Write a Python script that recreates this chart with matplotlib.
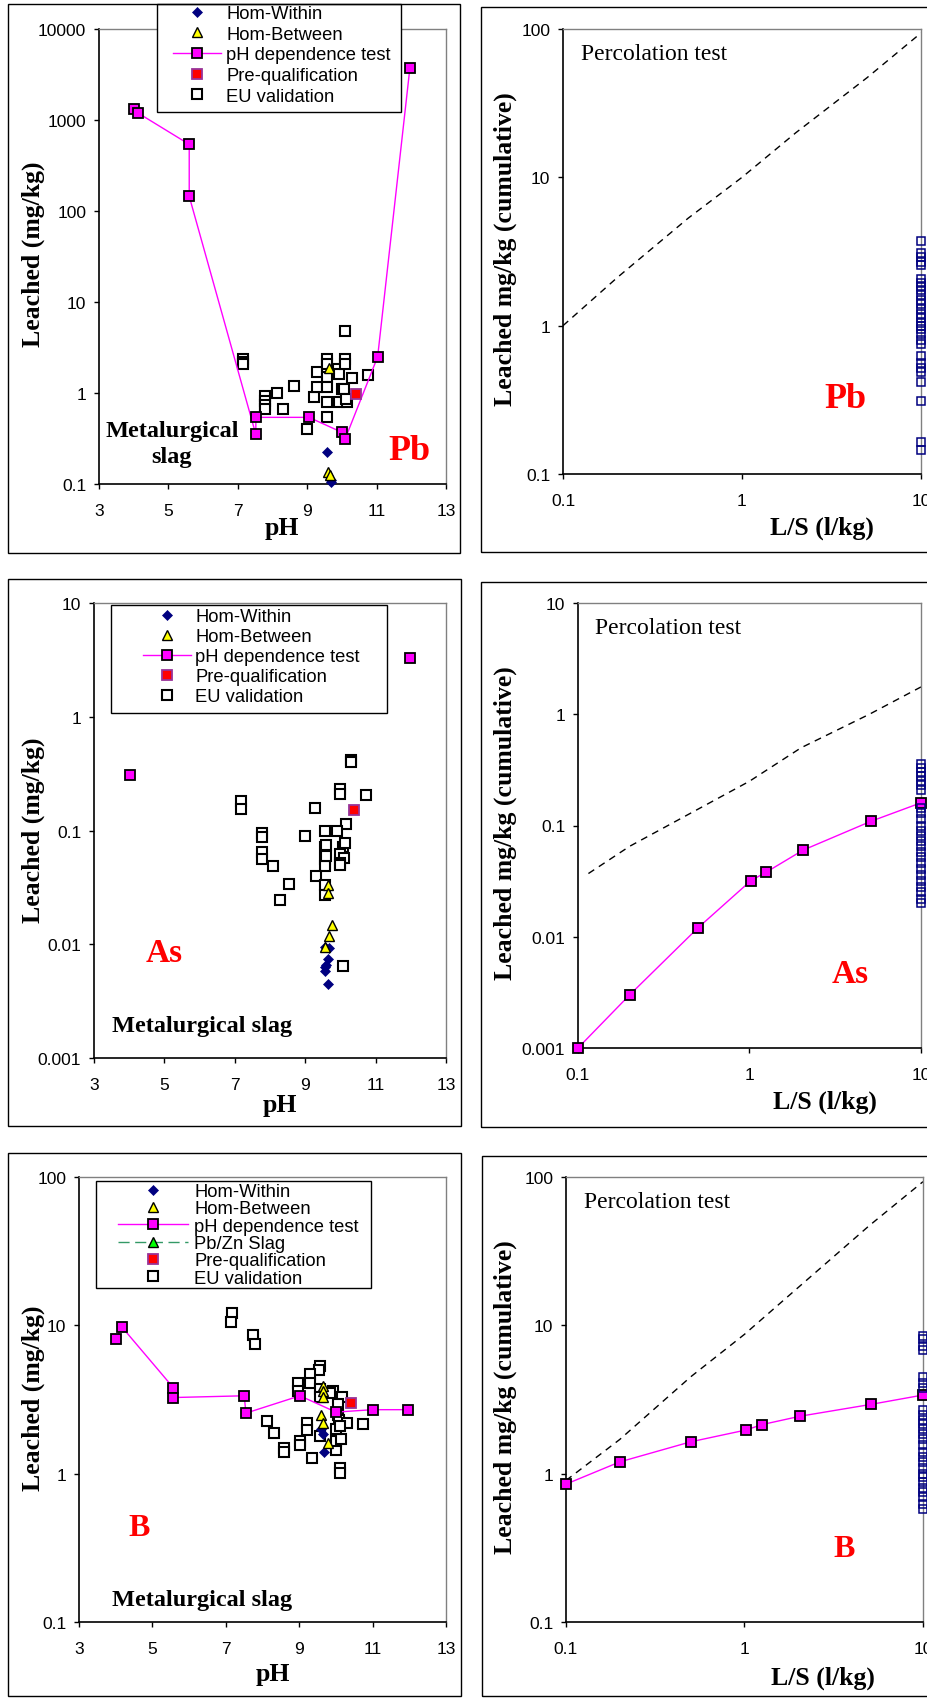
import matplotlib
matplotlib.use("Agg")
import matplotlib.pyplot as plt
from matplotlib.lines import Line2D
from matplotlib.patches import Rectangle
from matplotlib.ticker import FixedLocator, NullLocator, FuncFormatter

W, H = 928, 1699

# ---------------- data ----------------
# Pb, pH dependence panel
pb_dep_ph = [4.0, 4.13, 5.6, 5.6, 7.52, 7.52, 9.05, 10.0, 10.09, 11.03, 11.96]
pb_dep_val = [1320, 1190, 540, 145, 0.35, 0.54, 0.54, 0.37, 0.31, 2.5, 3750]
pb_within_ph = [9.58, 9.68, 9.7]
pb_within_val = [0.225, 0.112, 0.105]
pb_between_ph = [9.6, 9.66, 9.62]
pb_between_val = [0.135, 0.125, 1.9]
pb_preq_ph = [10.4]
pb_preq_val = [0.98]
pb_eu_ph = [7.16, 7.16, 7.16, 7.78, 7.78, 7.78, 7.78, 8.12, 8.31, 8.62, 8.98,
            9.2, 9.27, 9.28, 9.56, 9.56, 9.58, 9.58, 9.56, 9.56,
            9.9, 9.92, 9.99, 9.93, 10.09, 10.1, 10.1, 10.05, 10.15, 10.12,
            10.3, 10.74]
pb_eu_val = [2.35, 2.2, 2.1, 0.92, 0.82, 0.74, 0.67, 1.0, 0.67, 1.2, 0.40,
             0.90, 1.15, 1.69, 2.37, 2.1, 1.5, 1.15, 0.80, 0.54,
             1.84, 1.6, 1.1, 0.8, 4.8, 2.37, 2.1, 1.1, 0.8, 0.85,
             1.45, 1.58]

# As, pH dependence panel
as_dep_ph = [4.02, 11.98]
as_dep_val = [0.31, 3.3]
as_within_ph = [9.56, 9.68, 9.66, 9.6, 9.56, 9.56, 9.66]
as_within_val = [0.0095, 0.0092, 0.0074, 0.0066, 0.0063, 0.0058, 0.0045]
as_between_ph = [9.66, 9.66, 9.77, 9.68, 9.56]
as_between_val = [0.033, 0.028, 0.0147, 0.0119, 0.0094]
as_preq_ph = [10.39]
as_preq_val = [0.152]
as_eu_ph = [10.29, 10.29, 10.0, 10.0, 10.72, 7.18, 7.18, 9.28, 10.15,
            7.76, 7.76, 7.76, 7.76, 8.08, 8.99, 9.57, 9.9,
            9.57, 9.6, 9.57, 9.57, 9.6, 10.07, 10.12, 10.0, 10.1, 10.0, 10.0,
            9.32, 8.55, 8.27, 9.57, 9.57, 10.08]
as_eu_val = [0.42, 0.40, 0.23, 0.21, 0.205, 0.18, 0.155, 0.158, 0.114,
             0.096, 0.087, 0.065, 0.056, 0.049, 0.089, 0.098, 0.098,
             0.072, 0.075, 0.056, 0.049, 0.06, 0.072, 0.078, 0.062, 0.057, 0.052, 0.05,
             0.040, 0.034, 0.0245, 0.033, 0.027, 0.0064]

# B, pH dependence panel
b_dep_ph = [4.01, 4.16, 5.57, 5.57, 7.5, 7.55, 9.02, 10.0, 11.0, 11.97]
b_dep_val = [8.1, 9.8, 3.8, 3.26, 3.35, 2.56, 3.35, 2.6, 2.7, 2.7]
b_within_ph = [9.64, 9.6, 9.68]
b_within_val = [1.85, 2.0, 1.39]
b_between_ph = [9.66, 9.66, 9.66, 9.59, 9.66, 9.79]
b_between_val = [3.9, 3.6, 3.3, 2.48, 2.2, 1.6]
b_pbzn_ph = []
b_pbzn_val = []
b_preq_ph = [10.41]
b_preq_val = [3.0]
b_eu_ph = [7.18, 7.13, 7.73, 7.8, 9.57, 9.55, 9.29, 9.3, 8.98, 8.98,
           9.57, 9.57, 9.93, 10.16, 9.85, 10.05, 10.05, 10.08, 10.29, 10.73,
           8.11, 8.3, 8.59, 8.59, 9.02, 9.02, 9.22, 9.22, 9.36, 9.57,
           10.0, 10.0, 10.15, 10.1, 10.1, 10.0, 10.1]
b_eu_val = [12.1, 10.5, 8.6, 7.5, 5.3, 5.0, 4.7, 4.1, 4.1, 3.6,
            3.7, 3.3, 3.6, 3.3, 3.5, 2.95, 2.5, 2.3, 2.2, 2.16,
            2.25, 1.88, 1.5, 1.39, 1.67, 1.56, 2.2, 1.97, 1.27, 1.8,
            1.45, 1.65, 1.7, 1.09, 1.01, 2.0, 2.1]

# percolation panels
perc_ls = [0.1, 0.2, 0.5, 1.02, 1.25, 2.05, 5.1, 10]
as_perc_val = [0.001, 0.003, 0.012, 0.032, 0.038, 0.060, 0.109, 0.16]
b_perc_val = [0.85, 1.2, 1.64, 1.97, 2.14, 2.44, 2.93, 3.39]

ref_ls = [0.1, 0.2, 0.5, 1, 2, 5, 10]
as_ref_ls = [0.115, 0.2, 0.5, 1, 2, 5, 10]
pb_ref_val = [1.0, 2.1, 5.3, 10, 20, 47, 94]
as_ref_val = [0.037, 0.065, 0.14, 0.25, 0.5, 1.0, 1.76]
b_ref_val = [0.9, 1.7, 4.5, 8.7, 18, 47, 93]

pb_eu10 = [3.7, 3.1, 2.9, 2.7, 2.55, 2.05, 1.95, 1.85, 1.75, 1.62, 1.5, 1.4, 1.3,
           1.2, 1.12, 1.05, 1.0, 0.95, 0.88, 0.8, 0.75, 0.62, 0.56, 0.52, 0.49,
           0.42, 0.31, 0.165, 0.145]
as_eu10 = [0.36, 0.33, 0.30, 0.28, 0.25, 0.23, 0.21, 0.145, 0.13, 0.115, 0.1,
           0.09, 0.08, 0.072, 0.065, 0.058, 0.052, 0.046, 0.041, 0.036, 0.032,
           0.028, 0.025, 0.022, 0.02]
b_eu10 = [8.5, 8.1, 7.3, 6.8, 4.5, 4.1, 3.8, 2.7, 2.5, 2.3, 2.15, 2.0, 1.85,
          1.7, 1.55, 1.4, 1.3, 1.2, 1.1, 1.0, 0.95, 0.88, 0.8, 0.75, 0.7, 0.62, 0.58]

# ---------------- styles ----------------
MAG = '#FF00FF'
NAVY = '#000080'
SANS = 'Liberation Sans'
SERIF = 'Liberation Serif'

within_kw = dict(ls='none', marker='D', ms=5, mfc=NAVY, mec=NAVY, mew=0.5)
between_kw = dict(ls='none', marker='^', ms=7, mfc='#FFFF00', mec='black', mew=1)
dep_kw = dict(color=MAG, lw=1, marker='s', ms=6.5, mfc=MAG, mec='black', mew=1.3)
preq_kw = dict(ls='none', marker='s', ms=6.5, mfc='#FF0000', mec='#993399', mew=1.3)
eu_kw = dict(ls='none', marker='s', ms=6.7, mfc='white', mec='black', mew=1.5)
pbzn_kw = dict(color='#339966', lw=1, dashes=(8, 4), marker='^', ms=7,
               mfc='#00FF00', mec='black', mew=1)

fig = plt.figure(figsize=(W / 100, H / 100), dpi=100)


def px_axes(l, t, r, b):
    return fig.add_axes([l / W, 1 - b / H, (r - l) / W, (b - t) / H])


def frame(l, t, r, b):
    fig.patches.append(Rectangle((l / W, 1 - b / H), (r - l) / W, (b - t) / H,
                                 transform=fig.transFigure, fill=False,
                                 ec='black', lw=1.0))


fmt = FuncFormatter(lambda v, p: f'{v:g}')


def style(ax, xlog, yticks, xticks):
    ax.set_yscale('log')
    if xlog:
        ax.set_xscale('log')
    for s in ['top', 'right']:
        ax.spines[s].set_color('#808080')
        ax.spines[s].set_linewidth(1.0)
    for s in ['left', 'bottom']:
        ax.spines[s].set_color('black')
        ax.spines[s].set_linewidth(1.2)
    ax.yaxis.set_major_locator(FixedLocator(yticks))
    ax.yaxis.set_minor_locator(NullLocator())
    ax.xaxis.set_major_locator(FixedLocator(xticks))
    ax.xaxis.set_minor_locator(NullLocator())
    ax.yaxis.set_major_formatter(fmt)
    ax.xaxis.set_major_formatter(fmt)
    ax.set_ylim(yticks[0], yticks[-1])
    ax.set_xlim(xticks[0], xticks[-1])
    ax.tick_params(direction='out', length=3.6, width=1, labelsize=12.5)
    ax.tick_params(axis='x', pad=10)
    ax.tick_params(axis='y', pad=5.5)
    for lab in ax.get_xticklabels() + ax.get_yticklabels():
        lab.set_fontfamily(SANS)


def labels(ax, ylabel, ypos, xlabel, xpos):
    ax.text(ypos[0], ypos[1], ylabel, transform=ax.transAxes, rotation=90,
            ha='center', va='center', fontsize=18.5, fontweight='bold',
            family=SERIF)
    ax.text(xpos[0], xpos[1], xlabel, transform=ax.transAxes,
            ha='center', va='center', fontsize=18.5, fontweight='bold',
            family=SERIF)


def element(ax, name, pos, size):
    ax.text(pos[0], pos[1], name, transform=ax.transAxes, ha='center',
            va='center', color='#FF0000', fontsize=size, fontweight='bold',
            family=SERIF)


def legend(ax, box, anchor, entries, hlen, hpad, lspace):
    l, t, r, b = box
    ax.add_patch(Rectangle((l / W, 1 - b / H), (r - l) / W, (b - t) / H,
                           transform=fig.transFigure, fc='white', ec='black',
                           lw=1.0, clip_on=False, zorder=4))
    handles = [Line2D([], [], **kw) for kw, _ in entries]
    names = [n for _, n in entries]
    ax.legend(handles, names, loc='upper left',
              bbox_to_anchor=(anchor[0] / W, 1 - anchor[1] / H),
              bbox_transform=fig.transFigure, frameon=False, borderpad=0,
              borderaxespad=0, handlelength=hlen, handletextpad=hpad,
              labelspacing=lspace, prop={'family': SANS, 'size': 13.2})


def ph_panel(ax, dep_ph, dep_val, dep_line, within, between, preq, eu):
    ax.plot(eu[0], eu[1], clip_on=False, zorder=2, **eu_kw)
    kw = dict(dep_kw)
    if not dep_line:
        kw['ls'] = 'none'
    ax.plot(dep_ph, dep_val, clip_on=False, zorder=3, **kw)
    ax.plot(preq[0], preq[1], clip_on=False, zorder=3, **preq_kw)
    ax.plot(within[0], within[1], clip_on=False, zorder=3, **within_kw)
    ax.plot(between[0], between[1], clip_on=False, zorder=3, **between_kw)


def perc_panel(ax, ref_x, ref_y, eu10, perc_y=None):
    ax.plot(ref_x, ref_y, color='black', lw=1, dashes=(5, 4), zorder=2)
    if perc_y is not None:
        ax.plot(perc_ls, perc_y, clip_on=False, zorder=3, **dep_kw)
    ax.plot([10] * len(eu10), eu10, ls='none', marker='s', ms=5.2, mfc='none',
            mec=NAVY, mew=1.1, clip_on=False, zorder=4)
    ax.text(0.05, 0.945, 'Percolation test', transform=ax.transAxes,
            ha='left', va='center', fontsize=17, family=SERIF)


base_entries = [(within_kw, 'Hom-Within'), (between_kw, 'Hom-Between'),
                (dep_kw, 'pH dependence test'), (preq_kw, 'Pre-qualification'),
                (eu_kw, 'EU validation')]

# ---------------- panel 1: Pb vs pH ----------------
frame(8, 5, 460, 554)
ax1 = px_axes(99, 30, 446, 485)
style(ax1, False, [0.1, 1, 10, 100, 1000, 10000], [3, 5, 7, 9, 11, 13])
ph_panel(ax1, pb_dep_ph, pb_dep_val, True, (pb_within_ph, pb_within_val),
         (pb_between_ph, pb_between_val), (pb_preq_ph, pb_preq_val),
         (pb_eu_ph, pb_eu_val))
labels(ax1, 'Leached (mg/kg)', (-0.19, 0.507), 'pH', (0.527, -0.096))
element(ax1, 'Pb', (0.894, 0.073), 26)
ax1.text(0.21, 0.089, 'Metalurgical\nslag', transform=ax1.transAxes,
         ha='center', va='center', fontsize=17.5, fontweight='bold',
         family=SERIF, linespacing=1.3)
legend(ax1, (157, 5, 401, 113), (173, 6), base_entries, 2.6, 0.3, 0.2)

# ---------------- panel 2: Pb percolation ----------------
frame(481, 8, 940, 553)
ax2 = px_axes(563, 30, 921, 475)
style(ax2, True, [0.1, 1, 10, 100], [0.1, 1, 10])
perc_panel(ax2, ref_ls, pb_ref_val, pb_eu10)
labels(ax2, 'Leached mg/kg (cumulative)', (-0.162, 0.508), 'L/S (l/kg)',
       (0.723, -0.12))
element(ax2, 'Pb', (0.788, 0.169), 26)

# ---------------- panel 3: As vs pH ----------------
frame(8, 580, 461, 1127)
ax3 = px_axes(94, 604, 446, 1059)
style(ax3, False, [0.001, 0.01, 0.1, 1, 10], [3, 5, 7, 9, 11, 13])
ph_panel(ax3, as_dep_ph, as_dep_val, False, (as_within_ph, as_within_val),
         (as_between_ph, as_between_val), (as_preq_ph, as_preq_val),
         (as_eu_ph, as_eu_val))
labels(ax3, 'Leached (mg/kg)', (-0.173, 0.503), 'pH', (0.528, -0.103))
element(ax3, 'As', (0.2, 0.231), 24)
ax3.text(0.05, 0.072, 'Metalurgical slag', transform=ax3.transAxes,
         ha='left', va='center', fontsize=17.5, fontweight='bold', family=SERIF)
legend(ax3, (111, 606, 387, 714), (143, 609), base_entries, 2.6, 0.25, 0.17)

# ---------------- panel 4: As percolation ----------------
frame(481, 583, 940, 1128)
ax4 = px_axes(578, 604, 921, 1049)
style(ax4, True, [0.001, 0.01, 0.1, 1, 10], [0.1, 1, 10])
perc_panel(ax4, as_ref_ls, as_ref_val, as_eu10, as_perc_val)
labels(ax4, 'Leached mg/kg (cumulative)', (-0.213, 0.508), 'L/S (l/kg)',
       (0.72, -0.119))
element(ax4, 'As', (0.793, 0.167), 24)

# ---------------- panel 5: B vs pH ----------------
frame(8, 1154, 461, 1697)
ax5 = px_axes(79, 1178, 446, 1623)
style(ax5, False, [0.1, 1, 10, 100], [3, 5, 7, 9, 11, 13])
ax5.plot(b_pbzn_ph, b_pbzn_val, **pbzn_kw)
ph_panel(ax5, b_dep_ph, b_dep_val, True, (b_within_ph, b_within_val),
         (b_between_ph, b_between_val), (b_preq_ph, b_preq_val),
         (b_eu_ph, b_eu_val))
labels(ax5, 'Leached (mg/kg)', (-0.125, 0.506), 'pH', (0.529, -0.115))
element(ax5, 'B', (0.164, 0.213), 23)
ax5.text(0.089, 0.05, 'Metalurgical slag', transform=ax5.transAxes,
         ha='left', va='center', fontsize=17.5, fontweight='bold', family=SERIF)
b_entries = base_entries[:3] + [(pbzn_kw, 'Pb/Zn Slag')] + base_entries[3:]
legend(ax5, (96, 1182, 371, 1289), (118, 1184), b_entries, 3.8, 0.35, 0.02)

# ---------------- panel 6: B percolation ----------------
frame(482, 1157, 940, 1697)
ax6 = px_axes(566, 1178, 923, 1623)
style(ax6, True, [0.1, 1, 10, 100], [0.1, 1, 10])
perc_panel(ax6, ref_ls, b_ref_val, b_eu10, b_perc_val)
labels(ax6, 'Leached mg/kg (cumulative)', (-0.171, 0.507), 'L/S (l/kg)',
       (0.721, -0.124))
element(ax6, 'B', (0.78, 0.166), 23)

fig.savefig('out.png', dpi=100)
